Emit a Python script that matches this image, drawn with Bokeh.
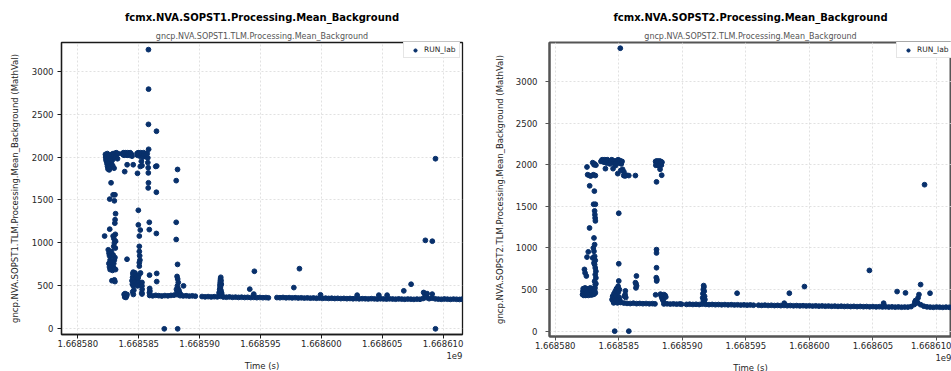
from bokeh.plotting import figure
from bokeh.layouts import row
from bokeh.models import Title, FixedTicker, Range1d
from bokeh.embed import file_html
from bokeh.resources import INLINE

# time origin (s); times below are offsets from it
T0 = 1668580000

x_tick_offsets = [0, 5000, 10000, 15000, 20000, 25000, 30000]
x_tick_labels = ["1.668580", "1.668585", "1.668590", "1.668595", "1.668600", "1.668605", "1.668610"]
x_offset_text = "1e9"
y_ticks = [0, 500, 1000, 1500, 2000, 2500, 3000]

titles = ["fcmx.NVA.SOPST1.Processing.Mean_Background", "fcmx.NVA.SOPST2.Processing.Mean_Background"]
subtitles = ["gncp.NVA.SOPST1.TLM.Processing.Mean_Background", "gncp.NVA.SOPST2.TLM.Processing.Mean_Background"]
ylabels = ["gncp.NVA.SOPST1.TLM.Processing.Mean_Background (MathVal)",
           "gncp.NVA.SOPST2.TLM.Processing.Mean_Background (MathVal)"]
xlabel = "Time (s)"
series_name = "RUN_lab"

# ---------------- SOPST1 (time offset s, value) ----------------
s1_start = [
    (2270, 2030), (2290, 2000), (2310, 1970), (2330, 2010), (2350, 1950), (2380, 1990), (2400, 1920),
    (2420, 2040), (2440, 1890), (2460, 1960), (2480, 1860), (2500, 2000), (2520, 1930), (2540, 1880),
    (2560, 1990), (2580, 1850), (2600, 1940), (2620, 2020), (2640, 1900), (2660, 1970), (2700, 1880),
    (2740, 1920), (2780, 2030), (2820, 1960), (2860, 1900), (2900, 2040), (2940, 2010), (2980, 1870),
    (3020, 1990), (3060, 2040), (3100, 2000), (3150, 2050), (3200, 2030), (3260, 1980), (3300, 2040),
    (2730, 1700), (2620, 1510), (3000, 1490), (2900, 1560), (3050, 1560), (3100, 1340), (3060, 1270),
    (3040, 1230), (2620, 1160), (3080, 1100), (2200, 1080), (2900, 1080), (2960, 1050), (3000, 1000),
    (2950, 960), (3100, 1020), (3080, 940),
    (2500, 920), (2560, 880), (2600, 850), (2650, 800), (2700, 760), (2750, 730), (2800, 700),
    (2850, 680), (2900, 720), (2950, 760), (3000, 800), (3050, 830), (2550, 760), (2600, 720),
    (2650, 690), (2700, 850), (2750, 900), (2800, 780), (2900, 860), (3000, 700), (3100, 690),
    (2800, 560), (3000, 570), (3050, 550),
]
s1_mid = [
    (3650, 2040), (3700, 2030), (3750, 2050), (3800, 2020), (3850, 2040), (3900, 2050), (3950, 2030),
    (4000, 2040), (4050, 2020), (4100, 2050), (4150, 2030), (4200, 2040), (4250, 2020), (4300, 2050),
    (4350, 2040), (4400, 2030), (4450, 2010), (4050, 1910), (4550, 1910), (3850, 1830), (4040, 810),
    (3800, 400), (3850, 370), (3900, 390), (3950, 365), (4000, 380), (4040, 400), (3880, 410),
    (4450, 560), (4500, 600), (4520, 640), (4550, 660), (4600, 620), (4620, 590), (4640, 540),
    (4480, 520), (4550, 500), (4600, 450), (4500, 430), (4560, 400),
    (4860, 2040), (4900, 2020), (4950, 2050), (5000, 2030), (5050, 2040), (5100, 2010), (5150, 2050),
    (5200, 2030), (5250, 2040), (5300, 2020), (5350, 2000), (5400, 2050), (5450, 2030), (5500, 2040),
    (5550, 2010), (5600, 2030), (5650, 2000), (5700, 2040), (5750, 1990), (5815, 2090),
    (4900, 1810), (5130, 1890), (5220, 1950), (5270, 1900), (5750, 1935), (5780, 1875), (5790, 1815),
    (5800, 1700), (5780, 1640),
    (5800, 3250), (5810, 2790), (5800, 2380), (6460, 2300),
    (4970, 1380), (4970, 1210), (5130, 1150), (5050, 1080), (5050, 960), (5050, 900), (5080, 850),
    (5100, 800), (5050, 770), (5050, 730), (4700, 650), (4750, 620), (4800, 600), (4850, 570),
    (4900, 560), (5000, 540), (5100, 510), (5150, 650), (4900, 500), (5270, 540), (5270, 500),
    (5280, 460), (5260, 420), (5270, 405), (5000, 620), (4950, 590),
    (5870, 1240), (5870, 1155), (5890, 625), (5900, 470), (5920, 440), (5880, 420),
    (6400, 1890), (6480, 1895), (6450, 1590), (6450, 1110), (6480, 645), (6480, 550),
    (7100, 0), (8200, 0),
    (8080, 1725), (8190, 1855), (8080, 1240), (8080, 1040), (8190, 750), (8150, 610), (8200, 580),
    (8250, 540), (8180, 500), (8220, 470), (8300, 450), (8150, 430), (8350, 420), (8400, 410),
    (8100, 460), (8680, 500),
]
s1_late = [
    (11600, 420), (11650, 460), (11680, 500), (11700, 540), (11720, 580), (11740, 600), (11760, 560),
    (11780, 520), (11700, 480), (11750, 450), (11800, 420), (11820, 400), (11690, 520), (11710, 560),
    (11730, 500), (11670, 440), (11660, 410),
    (14120, 462), (14450, 404), (14500, 670), (17740, 480), (18200, 700), (19930, 396), (22940, 392),
    (24720, 392), (25400, 392), (26770, 442), (27370, 519), (28400, 423), (28500, 400), (28600, 380),
    (28680, 410), (29100, 404), (29370, 0), (29370, 1980), (28540, 1030), (29110, 1020),
]
s1_baseline = [
    (5900, 388), (6150, 384), (6400, 390), (6650, 386), (6900, 382), (7150, 387), (7400, 384),
    (7650, 389), (7900, 392), (8150, 398), (8400, 386), (8650, 383), (8900, 385), (9150, 381),
    (9400, 384), (9650, 380),
    (10200, 376), (10450, 372), (10700, 375), (10950, 371), (11200, 374), (11450, 372), (11700, 378),
    (11950, 370), (12200, 368), (12450, 371), (12700, 367), (12950, 369), (13200, 366), (13450, 368),
    (13700, 365), (13950, 367), (14200, 364), (14450, 366), (14700, 363), (14950, 365), (15200, 362),
    (15450, 364), (15650, 361),
    (16350, 364), (16600, 362), (16850, 365), (17100, 361), (17350, 363), (17600, 360), (17850, 362),
    (18100, 359), (18350, 361), (18600, 358), (18850, 360), (19100, 357), (19350, 359), (19600, 356),
    (19850, 358), (20100, 355), (20350, 357), (20600, 354), (20850, 356), (21100, 353), (21350, 355),
    (21600, 352), (21850, 354), (22100, 351), (22350, 353), (22600, 350), (22850, 352), (23100, 349),
    (23350, 351), (23600, 350), (23850, 348), (24100, 351), (24350, 349), (24600, 347), (24850, 350),
    (25100, 348), (25350, 346), (25600, 349), (25850, 347), (26100, 345), (26350, 348), (26600, 346),
    (26850, 344), (27100, 347), (27350, 345), (27600, 343), (27850, 346), (28100, 344), (28350, 353),
    (28600, 363), (28850, 351), (29100, 357), (29350, 349), (29600, 346), (29850, 344), (30100, 347),
    (30350, 345), (30600, 343), (30850, 346), (31100, 344), (31350, 342), (31550, 345),
]

# ---------------- SOPST2 (time offset s, value) ----------------
s2_start = [
    (2150, 440), (2180, 480), (2200, 510), (2220, 450), (2250, 430), (2280, 470), (2300, 500),
    (2320, 440), (2350, 520), (2380, 460), (2400, 430), (2430, 490), (2460, 450), (2500, 510),
    (2530, 440), (2560, 470), (2600, 430), (2630, 500), (2660, 455), (2700, 480), (2730, 440),
    (2760, 520), (2800, 465), (2830, 435), (2860, 500), (2900, 450), (2930, 480), (2960, 440),
    (3000, 510), (3030, 470), (3060, 445), (3100, 490), (3130, 520), (3160, 460),
    (2300, 742), (2350, 700), (2450, 663), (2500, 890), (2600, 953), (2700, 1240), (2710, 1747),
    (2550, 1880), (2700, 1870), (2800, 1865), (3000, 1880), (3160, 1870), (2500, 1973), (2950, 2025),
    (3050, 2000), (3100, 2010), (3200, 1995), (3050, 1120), (3100, 1040), (2950, 880), (3000, 1000),
    (3050, 960), (3100, 900), (3150, 850), (3100, 800), (3150, 760), (3200, 720), (3150, 680),
    (3200, 640), (3100, 600), (3150, 560), (3020, 1525), (3160, 1525), (3100, 1445), (3120, 1400),
    (3140, 1360), (3160, 1325), (3080, 1683), (3200, 570), (3050, 820),
]
s2_mid = [
    (3600, 2040), (3650, 2050), (3700, 2060), (3750, 2040), (3800, 2050), (3850, 2030), (3900, 2060),
    (3950, 2040), (4000, 2050), (4050, 2020), (4100, 2060), (4150, 2040), (4200, 2050), (4250, 2030),
    (4300, 2010), (4350, 2050), (4400, 2040), (4450, 2060), (4500, 2030), (4550, 2050), (4600, 2020),
    (4650, 2040), (4700, 2010), (4750, 1990), (4800, 2030), (4850, 2050), (4900, 2040), (4950, 2060),
    (5000, 2020), (5050, 2040), (5100, 2050), (5150, 2030), (5200, 2010), (5260, 2040),
    (3950, 1953), (4550, 1953), (4920, 1893), (5390, 1870), (5500, 1865), (5600, 1875), (5790, 1870),
    (6310, 1870), (5300, 1945), (5400, 1915), (5150, 1930),
    (5120, 3400), (5000, 1417), (5000, 810), (5000, 603),
    (4470, 380), (4520, 420), (4570, 360), (4620, 450), (4670, 400), (4720, 480), (4770, 430),
    (4820, 510), (4870, 460), (4920, 520), (4970, 470), (5020, 410), (5070, 380), (5120, 350),
    (4600, 340), (4700, 350), (4800, 370), (4900, 340), (5050, 500), (4950, 540),
    (4680, 0), (5790, 0),
    (5520, 484), (5500, 440), (5550, 405), (5450, 420), (6310, 583), (6400, 545), (6390, 663),
    (6360, 568), (6350, 520),
    (7900, 2040), (7950, 2020), (8000, 2045), (8050, 2000), (8100, 2040), (8150, 2030), (8200, 2045),
    (8250, 2010), (8300, 2040), (8350, 1995), (8400, 2030), (7920, 1993), (8050, 2030), (8200, 2000),
    (8300, 2020), (8100, 1990), (8250, 1945), (8380, 1874), (7970, 1794),
    (7970, 980), (7970, 940), (7970, 762), (7950, 643), (8000, 620), (7980, 603), (7900, 437),
    (8280, 445), (8350, 420), (8400, 400), (8450, 380), (8500, 365), (8550, 440), (8650, 430),
    (8700, 410),
]
s2_late = [
    (11600, 400), (11620, 450), (11650, 500), (11680, 548), (11700, 530), (11720, 480), (11750, 420),
    (11780, 380), (11650, 360), (11720, 350),
    (14310, 456), (18020, 336), (18420, 456), (19610, 536), (24720, 730), (25840, 336), (26900, 476),
    (27560, 460), (28300, 350), (28350, 368), (28450, 340), (28550, 400), (28620, 440), (28750, 560),
    (29060, 1760), (29490, 456),
]
s2_baseline = [
    (5150, 345), (5400, 338), (5650, 334), (5900, 332), (6150, 336), (6400, 331), (6650, 333),
    (6900, 330), (7150, 332), (7400, 329), (7650, 331), (7850, 328),
    (8550, 327), (8800, 329), (9050, 326), (9300, 328), (9550, 325), (9800, 327), (9940, 324),
    (10330, 322), (10580, 324), (10830, 321), (11080, 323), (11330, 320), (11580, 325), (11850, 322),
    (12100, 319), (12350, 321), (12600, 318), (12850, 320), (13100, 317), (13350, 319), (13600, 316),
    (13850, 318), (14100, 315), (14350, 317), (14600, 314), (14850, 316), (15100, 313), (15350, 315),
    (15600, 312),
    (16000, 312), (16250, 310), (16500, 313), (16750, 309), (17000, 311), (17250, 308), (17500, 310),
    (17750, 307), (18000, 309), (18250, 306), (18500, 308), (18750, 305), (19000, 307), (19250, 304),
    (19500, 306), (19750, 303), (20000, 305), (20250, 302), (20500, 304), (20750, 301), (21000, 303),
    (21250, 300), (21500, 302), (21750, 299), (22000, 301), (22250, 298), (22500, 300), (22750, 297),
    (23000, 299), (23250, 296), (23500, 298), (23750, 295), (24000, 297), (24250, 294), (24500, 296),
    (24750, 293), (25000, 295), (25250, 292), (25500, 294), (25750, 291), (26000, 293), (26250, 290),
    (26500, 292), (26750, 289), (27000, 291), (27250, 288), (27500, 290), (27750, 289), (28000, 295),
    (28250, 320), (28500, 345), (28750, 318), (29000, 300), (29250, 292), (29500, 289), (29750, 287),
    (30000, 290), (30250, 288), (30500, 286), (30750, 289), (31000, 287), (31200, 286),
]

DOT = "#08306b"
FONT = "DejaVu Sans"


def make_panel(title, subtitle, ylabel, pts, x_lim, y_lim, frame_w, frame_h,
               b_left, b_right, b_top, b_bottom, legend_left, outline_color, outline_w,
               ylabel_standoff, ytick_standoff):
    p = figure(frame_width=frame_w, frame_height=frame_h,
               min_border_left=b_left, min_border_right=b_right,
               min_border_top=b_top, min_border_bottom=b_bottom,
               x_range=Range1d(T0 + x_lim[0], T0 + x_lim[1]),
               y_range=Range1d(y_lim[0], y_lim[1]),
               output_backend="svg", toolbar_location=None, title=None)
    p.background_fill_color = "white"
    p.border_fill_color = "white"
    p.outline_line_color = outline_color
    p.outline_line_width = outline_w

    p.add_layout(Title(text=subtitle, align="center", text_font=FONT, text_font_size="8px",
                       text_font_style="normal", text_color="#555555", standoff=4), "above")
    p.add_layout(Title(text=title, align="center", text_font=FONT, text_font_size="10px",
                       text_font_style="bold", text_color="#000000", standoff=9), "above")

    xs = [T0 + t for t, v in pts]
    ys = [v for t, v in pts]
    p.scatter(xs, ys, size=4.8, color=DOT, marker="circle", legend_label=series_name)

    p.xaxis.ticker = FixedTicker(ticks=[T0 + o for o in x_tick_offsets])
    p.xaxis.major_label_overrides = {T0 + o: lab for o, lab in zip(x_tick_offsets, x_tick_labels)}
    p.yaxis.ticker = FixedTicker(ticks=y_ticks)
    p.yaxis.axis_label = ylabel
    for ax in (p.xaxis[0], p.yaxis[0]):
        ax.minor_tick_line_color = None
        ax.major_tick_in = 0
        ax.major_tick_out = 4
        ax.major_tick_line_color = outline_color
        ax.axis_line_color = outline_color
        ax.axis_line_width = outline_w
        ax.major_label_text_font = FONT
        ax.major_label_text_font_size = "8.5px"
        ax.major_label_text_color = "#262626"
        ax.axis_label_text_font = FONT
        ax.axis_label_text_font_size = "8.5px"
        ax.axis_label_text_font_style = "normal"
        ax.axis_label_text_color = "#262626"
    p.yaxis.major_label_standoff = ytick_standoff
    p.yaxis.axis_label_standoff = ylabel_standoff
    p.xaxis.major_label_standoff = 1

    # offset text ("1e9") right-aligned under the tick labels, then the axis title
    p.add_layout(Title(text=x_offset_text, align="right", text_font=FONT, text_font_size="8.5px",
                       text_font_style="normal", text_color="#262626", standoff=0,
                       text_line_height=1.0), "below")
    p.add_layout(Title(text=xlabel, align="center", text_font=FONT, text_font_size="8.5px",
                       text_font_style="normal", text_color="#262626", standoff=0,
                       text_line_height=1.0), "below")

    p.grid.grid_line_color = "#d9d9d9"
    p.grid.grid_line_dash = "2 2"
    p.grid.grid_line_width = 0.8

    leg = p.legend[0]
    leg.location = (legend_left, frame_h - 2 - 14)
    leg.margin = 0
    leg.padding = 3
    leg.spacing = 0
    leg.glyph_width = 16
    leg.glyph_height = 8
    leg.label_height = 8
    leg.label_standoff = 1
    leg.label_text_font = FONT
    leg.label_text_font_size = "7.5px"
    leg.label_text_color = "#262626"
    leg.border_line_color = "#cccccc"
    leg.border_line_width = 1
    leg.background_fill_color = "white"
    leg.background_fill_alpha = 1.0
    return p


p1 = make_panel(titles[0], subtitles[0], ylabels[0], s1_start + s1_mid + s1_late + s1_baseline,
                (-1340, 31590), (-66, 3333), 401, 292, 61, 18, 42, 37, 342,
                "#1a1a1a", 1.3, 9, 4)
p2 = make_panel(titles[1], subtitles[1], ylabels[1], s2_start + s2_mid + s2_late + s2_baseline,
                (-450, 31180), (-64, 3469), 402, 294, 69, 0, 40, 37, 347,
                "#555555", 2.0, 8, 8)

layout = row(p1, p2)
open("out.html", "w").write(file_html(layout, INLINE))
